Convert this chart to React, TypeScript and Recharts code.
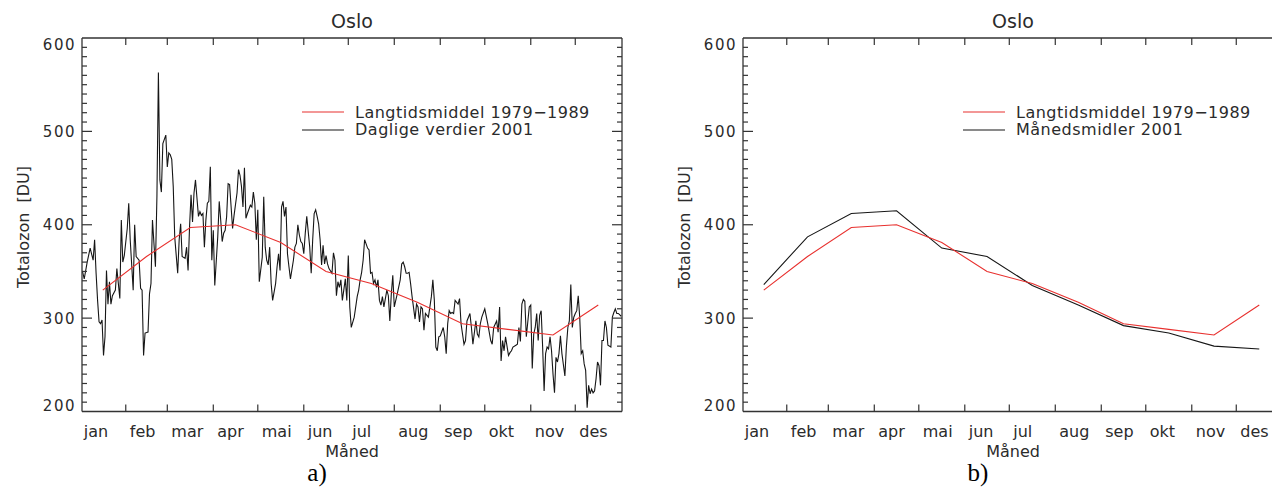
import React from 'react';
import { LineChart, Line, XAxis, YAxis, Legend } from 'recharts';

// calendar
const monthNames = ['jan', 'feb', 'mar', 'apr', 'mai', 'jun', 'jul', 'aug', 'sep', 'okt', 'nov', 'des'];
const monthStarts = [0, 31, 59, 90, 120, 151, 181, 212, 243, 273, 304, 334];
const yLabelTicks = [200, 300, 400, 500, 600];

// monthly means (DU)
const longTermMean = [330, 366, 397, 400, 381, 350, 337, 317, 294, 288, 282, 314];
const monthlyMean2001 = [336, 387, 412, 415, 375, 366, 335, 314, 292, 284, 270, 267];

// daily total ozone Oslo 2001, [day of year, DU]
const dailyOzone2001: [number, number][] = [
  [1, 351], [2, 349], [3, 342], [5, 360], [7, 375], [9, 362], [10, 384], [11, 348], [12, 319], [13, 296],
  [14, 294], [15, 298], [16, 260], [17, 280], [18, 351], [19, 315], [20, 339], [21, 315], [22, 324], [24, 330],
  [25, 353], [27, 321], [28, 405], [29, 360], [30, 367], [32, 396], [33, 423], [34, 384], [36, 330], [37, 400],
  [38, 366], [40, 362], [41, 332], [42, 330], [43, 260], [44, 284], [46, 285], [47, 326], [48, 337], [49, 405],
  [51, 355], [52, 430], [53, 563], [54, 448], [55, 435], [56, 487], [58, 496], [59, 462], [60, 477], [61, 475],
  [62, 470], [63, 441], [64, 387], [66, 348], [67, 384], [68, 401], [69, 366], [71, 364], [72, 376], [73, 351],
  [74, 398], [75, 432], [76, 403], [77, 434], [78, 448], [80, 409], [81, 414], [82, 410], [83, 412], [84, 376],
  [85, 405], [86, 423], [87, 425], [88, 462], [89, 362], [90, 394], [91, 335], [93, 387], [94, 425], [95, 405],
  [96, 382], [97, 391], [98, 394], [99, 409], [100, 444], [101, 443], [103, 396], [104, 410], [106, 434], [107, 459],
  [108, 453], [109, 441], [110, 419], [111, 461], [112, 407], [113, 412], [115, 421], [116, 419], [117, 435], [118, 423],
  [119, 384], [120, 416], [121, 339], [123, 365], [124, 430], [125, 376], [126, 362], [127, 357], [128, 376], [129, 337],
  [130, 319], [132, 337], [133, 355], [134, 369], [135, 351], [136, 419], [137, 425], [138, 409], [139, 419], [140, 369],
  [141, 355], [142, 342], [144, 362], [145, 376], [146, 380], [147, 400], [148, 389], [149, 382], [150, 380], [151, 369],
  [152, 391], [153, 409], [155, 376], [156, 348], [157, 384], [158, 412], [159, 416], [160, 409], [161, 401], [162, 384],
  [163, 357], [164, 378], [165, 358], [166, 367], [167, 358], [168, 353], [170, 348], [171, 370], [172, 362], [173, 324],
  [174, 339], [175, 333], [176, 341], [177, 319], [179, 342], [180, 319], [181, 367], [182, 312], [183, 290], [185, 301],
  [186, 312], [187, 323], [188, 330], [189, 341], [190, 349], [191, 362], [192, 384], [194, 375], [195, 373], [196, 348],
  [197, 349], [198, 337], [199, 341], [200, 333], [201, 341], [202, 319], [203, 314], [204, 323], [205, 312], [207, 330],
  [208, 324], [209, 297], [210, 326], [211, 346], [212, 312], [213, 319], [214, 326], [216, 341], [217, 358], [218, 360],
  [219, 355], [220, 348], [221, 348], [222, 349], [223, 337], [224, 323], [226, 299], [227, 315], [228, 312], [229, 296],
  [230, 312], [231, 310], [232, 287], [233, 305], [235, 301], [236, 312], [237, 323], [238, 341], [239, 319], [240, 269],
  [241, 265], [242, 280], [243, 281], [245, 290], [246, 280], [247, 262], [248, 294], [249, 308], [250, 305], [251, 306],
  [252, 305], [253, 319], [255, 315], [256, 321], [257, 294], [259, 272], [260, 276], [261, 297], [263, 305], [264, 290],
  [265, 272], [267, 297], [268, 283], [269, 280], [270, 294], [271, 301], [273, 310], [275, 294], [277, 276], [278, 272],
  [279, 290], [281, 297], [282, 285], [283, 312], [284, 254], [285, 276], [286, 265], [287, 280], [289, 260], [290, 263],
  [291, 265], [292, 269], [294, 271], [295, 272], [296, 290], [297, 275], [298, 315], [299, 320], [300, 318], [301, 280],
  [303, 312], [304, 314], [305, 246], [306, 283], [307, 290], [308, 305], [309, 276], [310, 303], [311, 308], [312, 269],
  [313, 222], [314, 262], [315, 269], [316, 267], [317, 280], [318, 265], [319, 240], [320, 220], [321, 258], [322, 253],
  [323, 262], [324, 281], [325, 262], [327, 238], [328, 269], [329, 290], [330, 297], [331, 336], [332, 290], [333, 301],
  [334, 305], [335, 308], [336, 324], [337, 301], [338, 262], [339, 265], [340, 251], [341, 244], [342, 204], [343, 228],
  [344, 219], [345, 224], [346, 220], [347, 222], [348, 235], [349, 253], [350, 249], [351, 228], [352, 276], [353, 276],
  [354, 297], [355, 290], [356, 271], [358, 269], [359, 301], [360, 306], [361, 310], [362, 305], [363, 305], [365, 302],
];

const LONG_TERM_NAME = 'Langtidsmiddel 1979\u22121989';
const X_DOMAIN: [number, number] = [1.5, 365.5];
const Y_DOMAIN: [number, number] = [200, 600];
const yAllTicks = Array.from({ length: 41 }, (_, i) => 200 + i * 10);

const AXIS = '#333';
const TEXT = '#2b2b2b';
const RED = '#e8302e';
const BLACK = '#161616';
const FONT = '"DejaVu Sans", sans-serif';

const midMonth = monthStarts.map((s, i) => (s + (monthStarts[i + 1] ?? 365)) / 2);
const toMonthly = (values: number[]) => values.map((value, i) => ({ day: midMonth[i], value }));
const dailyRows = dailyOzone2001.map(([day, value]) => ({ day, value }));

const MonthTick = (props: any) => {
  const { x, y, index, top } = props;
  return (
    <g>
      {index > 0 && <line x1={x} y1={y} x2={x} y2={top ? y + 7 : y - 7} stroke={AXIS} strokeWidth={1.2} />}
      {!top && (
        <text x={x + 4} y={y + 25} fill={TEXT} fontSize={16} fontFamily={FONT}>
          {monthNames[index]}
        </text>
      )}
    </g>
  );
};

const OzoneTick = (props: any) => {
  const { x, y, payload, right } = props;
  const v = payload.value as number;
  const major = v % 100 === 0;
  const len = major ? 10 : 5;
  const dir = right ? -1 : 1;
  const shift = v === Y_DOMAIN[1] ? 6.5 : v === Y_DOMAIN[0] ? -6 : 0;
  return (
    <g>
      {v > Y_DOMAIN[0] && v < Y_DOMAIN[1] && (
        <line x1={x} y1={y} x2={x + dir * len} y2={y} stroke={AXIS} strokeWidth={1.2} />
      )}
      {!right && yLabelTicks.includes(v) && (
        <text x={x - 6} y={y + shift} dy="0.36em" textAnchor="end" fill={TEXT} fontSize={15}
          letterSpacing={1.5} fontFamily={FONT}>
          {v}
        </text>
      )}
    </g>
  );
};

const LegendBox = ({ payload }: any) => {
  const items = [...(payload || [])].sort((a: any, b: any) =>
    (a.value === LONG_TERM_NAME ? 0 : 1) - (b.value === LONG_TERM_NAME ? 0 : 1));
  return (
    <div>
      {items.map((it: any) => (
        <div key={it.value} style={{ display: 'flex', alignItems: 'center', height: 17.5 }}>
          <svg width={42} height={4}>
            <line x1={0} y1={2} x2={42} y2={2} stroke={it.color} strokeWidth={1.2} />
          </svg>
          <span style={{ marginLeft: 11, fontSize: 16, fontFamily: FONT, color: TEXT, letterSpacing: 0.5, whiteSpace: 'nowrap' }}>
            {it.value}
          </span>
        </div>
      ))}
    </div>
  );
};

interface PanelProps {
  left: number;
  clipWidth: number;
  rightFrame: boolean;
  seriesName: string;
  seriesData: { day: number; value: number }[];
}

// axes get a 1px band (recharts skips axes of zero size); margins take it back
const OzonePanel: React.FC<PanelProps> = ({ left, clipWidth, rightFrame, seriesName, seriesData }) => {
  const axisLine = { stroke: AXIS, strokeWidth: 1.3 };
  return (
    <div style={{ position: 'absolute', left, top: 0, width: clipWidth, height: 487, overflow: 'hidden' }}>
      <LineChart width={640} height={487} margin={{ top: 37, right: 17, bottom: 74.5, left: 81 }}>
        <XAxis xAxisId="b" type="number" dataKey="day" domain={X_DOMAIN} allowDataOverflow ticks={monthStarts}
          interval={0} height={1} tickSize={0} tickMargin={0} tickLine={false} axisLine={axisLine}
          tick={(p: any) => <MonthTick {...p} />} />
        <XAxis xAxisId="t" orientation="top" type="number" dataKey="day" domain={X_DOMAIN} allowDataOverflow
          ticks={monthStarts} interval={0} height={1} tickSize={0} tickMargin={0} tickLine={false} axisLine={axisLine}
          tick={(p: any) => <MonthTick {...p} top />} />
        <YAxis yAxisId="l" type="number" domain={Y_DOMAIN} allowDataOverflow ticks={yAllTicks} interval={0}
          width={1} tickSize={0} tickMargin={0} tickLine={false} axisLine={axisLine}
          tick={(p: any) => <OzoneTick {...p} />} />
        <YAxis yAxisId="r" orientation="right" type="number" domain={Y_DOMAIN} allowDataOverflow ticks={yAllTicks}
          interval={0} width={1} tickSize={0} tickMargin={0} tickLine={false} axisLine={rightFrame ? axisLine : false}
          tick={rightFrame ? (p: any) => <OzoneTick {...p} right /> : false} />
        <Legend layout="horizontal" verticalAlign="middle" align="center" content={<LegendBox />}
          wrapperStyle={{ position: 'absolute', left: 302, top: 103.5, width: 320 }} />
        <Line xAxisId="b" yAxisId="l" data={seriesData} dataKey="value" name={seriesName} type="linear"
          stroke={BLACK} strokeWidth={1.1} dot={false} activeDot={false} isAnimationActive={false} />
        <Line xAxisId="b" yAxisId="l" data={toMonthly(longTermMean)} dataKey="value" name={LONG_TERM_NAME}
          type="linear" stroke={RED} strokeWidth={1.1} dot={false} activeDot={false} isAnimationActive={false} />
      </LineChart>
    </div>
  );
};

const PanelText = ({ dx, tag, yBase }: { dx: number; tag: string; yBase: number }) => (
  <g fill={TEXT} fontFamily={FONT}>
    <text x={dx + 352} y={28} fontSize={19} textAnchor="middle">Oslo</text>
    <text transform={`translate(${yBase},227) rotate(-90)`} fontSize={16} textAnchor="middle">
      Totalozon{'\u00a0\u00a0'}[DU]
    </text>
    <text x={dx + 352} y={457} fontSize={16} textAnchor="middle">Måned</text>
    <text x={dx + 317} y={481} fontSize={25} textAnchor="middle" fill="#000"
      fontFamily='"Liberation Serif", "Times New Roman", serif'>{tag}</text>
  </g>
);

export default function App() {
  return (
    <div style={{ position: 'absolute', left: 0, top: 0, width: 1272, height: 487, overflow: 'hidden', background: '#fff' }}>
      <OzonePanel left={0} clipWidth={640} rightFrame seriesName="Daglige verdier 2001" seriesData={dailyRows} />
      <OzonePanel left={661} clipWidth={611} rightFrame={false} seriesName="Månedsmidler 2001"
        seriesData={toMonthly(monthlyMean2001)} />
      <svg width={1272} height={487} style={{ position: 'absolute', left: 0, top: 0, pointerEvents: 'none' }}>
        <PanelText dx={0} tag="a)" yBase={29} />
        <PanelText dx={661} tag="b)" yBase={690} />
      </svg>
    </div>
  );
}
